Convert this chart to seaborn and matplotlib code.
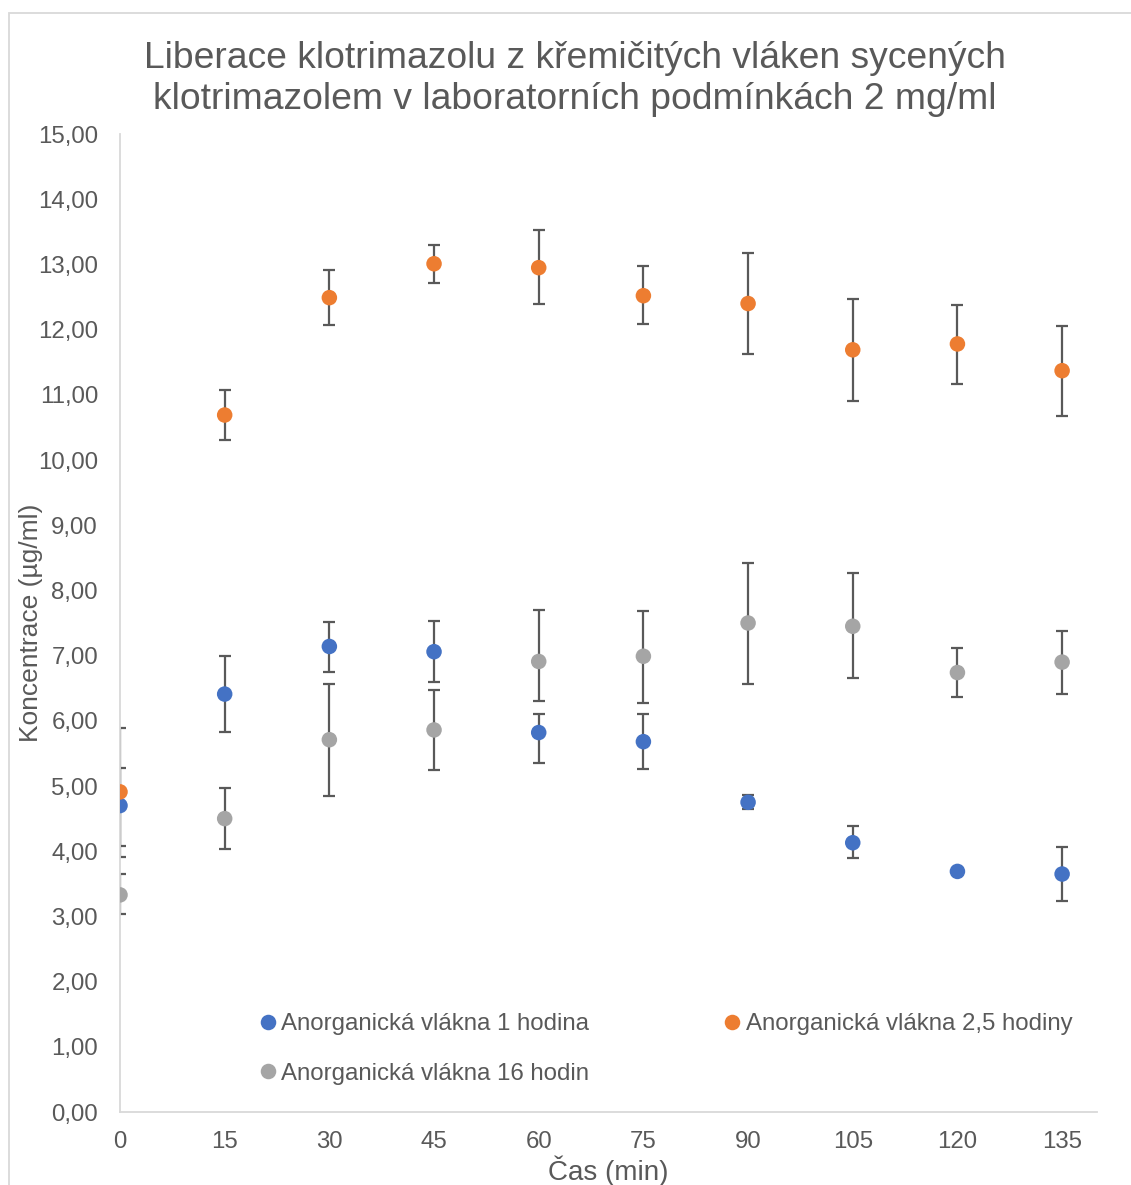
import numpy as np
import pandas as pd
import seaborn as sns
import matplotlib.pyplot as plt
from matplotlib.patches import Rectangle
from matplotlib.ticker import FuncFormatter

# casove body (min)
cas = [0, 15, 30, 45, 60, 75, 90, 105, 120, 135]

serie = ["Anorganická vlákna 1 hodina",
         "Anorganická vlákna 2,5 hodiny",
         "Anorganická vlákna 16 hodin"]

# koncentrace (ug/ml)
c_1h = [4.70, 6.41, 7.14, 7.06, 5.82, 5.68, 4.75, 4.13, 3.69, 3.65]
c_25h = [4.91, 10.69, 12.49, 13.01, 12.95, 12.52, 12.40, 11.69, 11.78, 11.37]
c_16h = [3.33, 4.50, 5.71, 5.86, 6.91, 6.99, 7.50, 7.45, 6.74, 6.90]

# chybove usecky (plus / minus)
err_1h_plus = [0.58, 0.58, 0.38, 0.47, 0.28, 0.42, 0.11, 0.25, 0.03, 0.42]
err_1h_minus = [0.62, 0.58, 0.39, 0.47, 0.47, 0.42, 0.11, 0.24, 0.03, 0.41]
err_25h_plus = [0.98, 0.39, 0.42, 0.29, 0.57, 0.45, 0.77, 0.78, 0.60, 0.68]
err_25h_minus = [1.00, 0.39, 0.42, 0.29, 0.56, 0.44, 0.78, 0.78, 0.62, 0.70]
err_16h_plus = [0.32, 0.47, 0.86, 0.61, 0.79, 0.70, 0.92, 0.81, 0.38, 0.48]
err_16h_minus = [0.29, 0.47, 0.86, 0.62, 0.60, 0.71, 0.94, 0.80, 0.38, 0.49]

barvy = ["#4472C4", "#ED7D31", "#A5A5A5"]

df = pd.DataFrame({
    "Cas": cas * 3,
    "Koncentrace": c_1h + c_25h + c_16h,
    "Serie": [s for s in serie for _ in cas],
})

sns.set_style("white")
plt.rcParams["font.family"] = ["Liberation Sans", "DejaVu Sans"]
sedy_text = "#595959"

fig = plt.figure(figsize=(11.31, 11.85), dpi=100)
ax = fig.add_axes([120 / 1131, 1 - 1112 / 1185, (1097 - 120) / 1131, (1112 - 134) / 1185])

# chybove usecky pod body
for y, ep, em in [(c_1h, err_1h_plus, err_1h_minus),
                  (c_25h, err_25h_plus, err_25h_minus),
                  (c_16h, err_16h_plus, err_16h_minus)]:
    ax.errorbar(cas, y, yerr=[em, ep], fmt="none", ecolor="#595959",
                elinewidth=1.6, capsize=4.5, capthick=1.6, zorder=2)

sns.scatterplot(data=df, x="Cas", y="Koncentrace", hue="Serie", palette=barvy,
                s=125, linewidth=0, ax=ax, zorder=3, legend=True)

ax.set_xlim(0, 140)
ax.set_ylim(0, 15)
ax.set_xticks(cas)
ax.set_yticks(np.arange(0, 16, 1))
ax.yaxis.set_major_formatter(FuncFormatter(lambda v, p: f"{v:.2f}".replace(".", ",")))
ax.tick_params(axis="both", length=0, labelsize=17.3, labelcolor=sedy_text)
ax.tick_params(axis="y", pad=15.8)
ax.tick_params(axis="x", pad=14)

for s in ["top", "right"]:
    ax.spines[s].set_visible(False)
for s in ["left", "bottom"]:
    ax.spines[s].set_color("#D9D9D9")
    ax.spines[s].set_linewidth(1.3)

ax.set_xlabel("Čas (min)", fontsize=20, color=sedy_text)
ax.set_ylabel("Koncentrace (µg/ml)", fontsize=19, color=sedy_text)
ax.xaxis.set_label_coords(0.5, -(1156 - 1112) / 978)
ax.yaxis.set_label_coords(-(120 - 43) / 977, 0.5)

fig.text(575 / 1131, 1 - 79 / 1185,
         "Liberace klotrimazolu z křemičitých vláken sycených\nklotrimazolem v laboratorních podmínkách 2 mg/ml",
         ha="center", va="center", fontsize=26.8, color=sedy_text, linespacing=1.25)

# legenda - poradi po radcich
handles, labels = ax.get_legend_handles_labels()
ax.legend_.remove()
poradi = [0, 2, 1]
leg = ax.legend([handles[i] for i in poradi], [labels[i] for i in poradi],
                ncol=2, frameon=False, fontsize=17.3,
                loc="center", bbox_to_anchor=(0.553, 0.0644),
                columnspacing=5.18, handletextpad=-0.25, handlelength=1.6,
                labelspacing=1.15)
for t in leg.get_texts():
    t.set_color(sedy_text)

# ramecek grafu
fig.add_artist(Rectangle((9 / 1131, -0.1), 1.2, 1 - 13 / 1185 + 0.1,
                         transform=fig.transFigure, fill=False,
                         edgecolor="#D9D9D9", linewidth=1.3))

plt.savefig("out.png", dpi=100)
